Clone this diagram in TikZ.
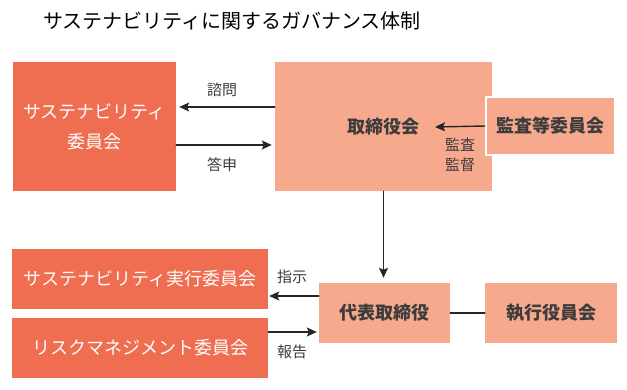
\documentclass[tikz,border=0pt]{standalone}
\usepackage{fontspec}
\setmainfont{Noto Sans CJK JP}
\usetikzlibrary{arrows.meta}

\begin{document}
\begin{tikzpicture}[x=1pt, y=-1pt, line cap=round, line join=round]

    \definecolor{deeporange}{HTML}{EF6D50}
    \definecolor{paleorange}{HTML}{F7A98E}
    \definecolor{labelgray}{HTML}{3C3C3C}

    \useasboundingbox (0,0) rectangle (627,390);

    \tikzset{
      darkbox/.style={
        fill=deeporange, draw=none, text=white, align=center,
        inner sep=0pt, font=\fontsize{18}{30}\selectfont
      },
      lightbox/.style={
        fill=paleorange, draw=none, text=labelgray, align=center,
        inner sep=0pt, font=\fontsize{18}{30}\selectfont\bfseries
      },
      lbl/.style={text=labelgray, align=center, inner sep=0pt,
        font=\fontsize{15}{20}\selectfont},
      arr/.style={line width=1.4pt, black!85,
        -{Stealth[length=10pt, width=9pt, inset=2pt]}}
    }

    % title
    \node (title) at (232,21) {\fontsize{20}{24}\selectfont サステナビリティに関するガバナンス体制};

    % upper row
    \node[darkbox, minimum width=163, minimum height=129] (suscom) at (94.5,126.5)
      {サステナビリティ\\委員会};
    \node[lightbox, minimum width=217, minimum height=129] (board) at (383.5,126.5)
      {取締役会};
    \node[lightbox, draw=white, line width=2pt, minimum width=129, minimum height=58]
      (audit) at (550.5,126) {監査等委員会};

    % lower row
    \node[darkbox, minimum width=256, minimum height=60] (sexec) at (140,279)
      {サステナビリティ実行委員会};
    \node[darkbox, minimum width=256, minimum height=60] (risk) at (140,348)
      {リスクマネジメント委員会};
    \node[lightbox, minimum width=131, minimum height=60] (rep) at (384.5,313)
      {代表取締役};
    \node[lightbox, minimum width=132, minimum height=60] (exec) at (551,313)
      {執行役員会};

    \coordinate (boardin) at (435,127);

    % connectors
    \draw[arr, shorten >=3pt] ([yshift=19.5pt]board.west) -- ([yshift=19.5pt]board.west -| suscom.east);
    \draw[arr, shorten >=3pt] ([yshift=-18.5pt]suscom.east) -- ([yshift=-18.5pt]suscom.east -| board.west);
    \draw[arr] (audit.west) -- (boardin);
    \draw[arr, shorten >=5pt] (board.south) -- (board.south |- rep.north);
    \draw[arr, shorten >=1pt] ([yshift=17pt]rep.west) -- ([yshift=17pt]rep.west -| sexec.east);
    \draw[arr, shorten >=2pt] ([yshift=16pt]risk.east) -- ([yshift=16pt]risk.east -| rep.west);
    \draw[line width=1.4pt, black!85] (rep.east) -- (exec.west);

    % labels
    \node[lbl] (consult) at (222,90) {諮問};
    \node[lbl] (answer) at (222,165) {答申};
    \node[lbl] (auditlbl) at (460,155) {監査\\監督};
    \node[lbl] (order) at (292,277) {指示};
    \node[lbl] (report) at (292,352) {報告};

\end{tikzpicture}
\end{document}
